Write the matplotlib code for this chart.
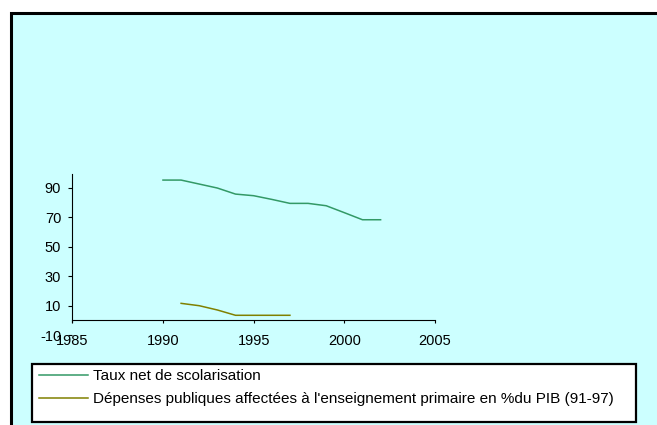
import matplotlib
matplotlib.use("Agg")
import matplotlib.pyplot as plt
from matplotlib.patches import Rectangle

plt.rcParams["font.family"] = ["Liberation Sans", "DejaVu Sans"]

# ── Données ────────────────────────────────────────────────────────────────
annees_taux = [1990, 1991, 1992, 1993, 1994, 1995, 1996, 1997, 1998, 1999, 2000, 2001, 2002]
taux_net    = [95.2, 95.2, 92.5, 89.8, 85.7, 84.6, 82.1, 79.4, 79.4, 77.8, 73.1, 68.3, 68.3]

annees_dep  = [1991, 1992, 1993, 1994, 1995, 1996, 1997]
depenses    = [11.6, 10.0, 7.1, 3.5, 3.5, 3.5, 3.5]

labels = ["Taux net de scolarisation",
          "Dépenses publiques affectées à l'enseignement primaire en %du PIB (91-97)"]
y_ticks = [-10, 10, 30, 50, 70, 90]
x_ticks = [1985, 1990, 1995, 2000, 2005]

W, H = 657, 425
BG = "#CCFFFF"

fig = plt.figure(figsize=(W / 100, H / 100), dpi=100, facecolor="white")

# cadre de fond (bord noir haut / gauche)
fig.patches.append(Rectangle((10.5 / W, -0.05), 1.0, (H - 12.5) / H + 0.05,
                             transform=fig.transFigure, facecolor=BG,
                             edgecolor="black", linewidth=2.2, zorder=-5))

ax = fig.add_axes([72.3 / W, (H - 335.2) / H, 362.7 / W, 162.2 / H])
ax.set_facecolor("none")
ax.set_zorder(1)

ax.plot(annees_taux, taux_net, color="#339966", lw=1.1, label=labels[0])
ax.plot(annees_dep, depenses, color="#808000", lw=1.1, label=labels[1])

ax.set_xlim(1985, 2005)
ax.set_ylim(-10, 100)
ax.set_xticks(x_ticks)
ax.set_yticks(y_ticks)
ax.set_yticklabels([str(v) for v in y_ticks])

for s in ["top", "right"]:
    ax.spines[s].set_visible(False)
ax.spines["bottom"].set_position(("data", 0))
ax.spines["bottom"].set_bounds(1985, 2005)
ax.spines["left"].set_bounds(-0.8, 99)
for s in ["bottom", "left"]:
    ax.spines[s].set_linewidth(0.8)

ax.tick_params(axis="x", direction="out", length=2.5, width=0.8, pad=7.5, labelsize=10.5)
ax.tick_params(axis="y", direction="out", length=3, width=0.8, pad=5, labelsize=10.5)

# légende
lx0, ly0, lx1, ly1 = 32, 364, 636, 422
fig.patches.append(Rectangle((lx0 / W, (H - ly1) / H), (lx1 - lx0) / W, (ly1 - ly0) / H,
                             transform=fig.transFigure, facecolor="white",
                             edgecolor="black", linewidth=1.6, zorder=1))
handles, _ = ax.get_legend_handles_labels()
leg = fig.legend(handles, labels, loc="upper left",
                 bbox_to_anchor=(36 / W, (H - 366) / H),
                 frameon=False, fontsize=11, handlelength=3.2,
                 handletextpad=0.32, labelspacing=0.6, borderpad=0.2,
                 borderaxespad=0)
leg.set_zorder(2)

fig.savefig("out.png", dpi=100, facecolor=fig.get_facecolor())
